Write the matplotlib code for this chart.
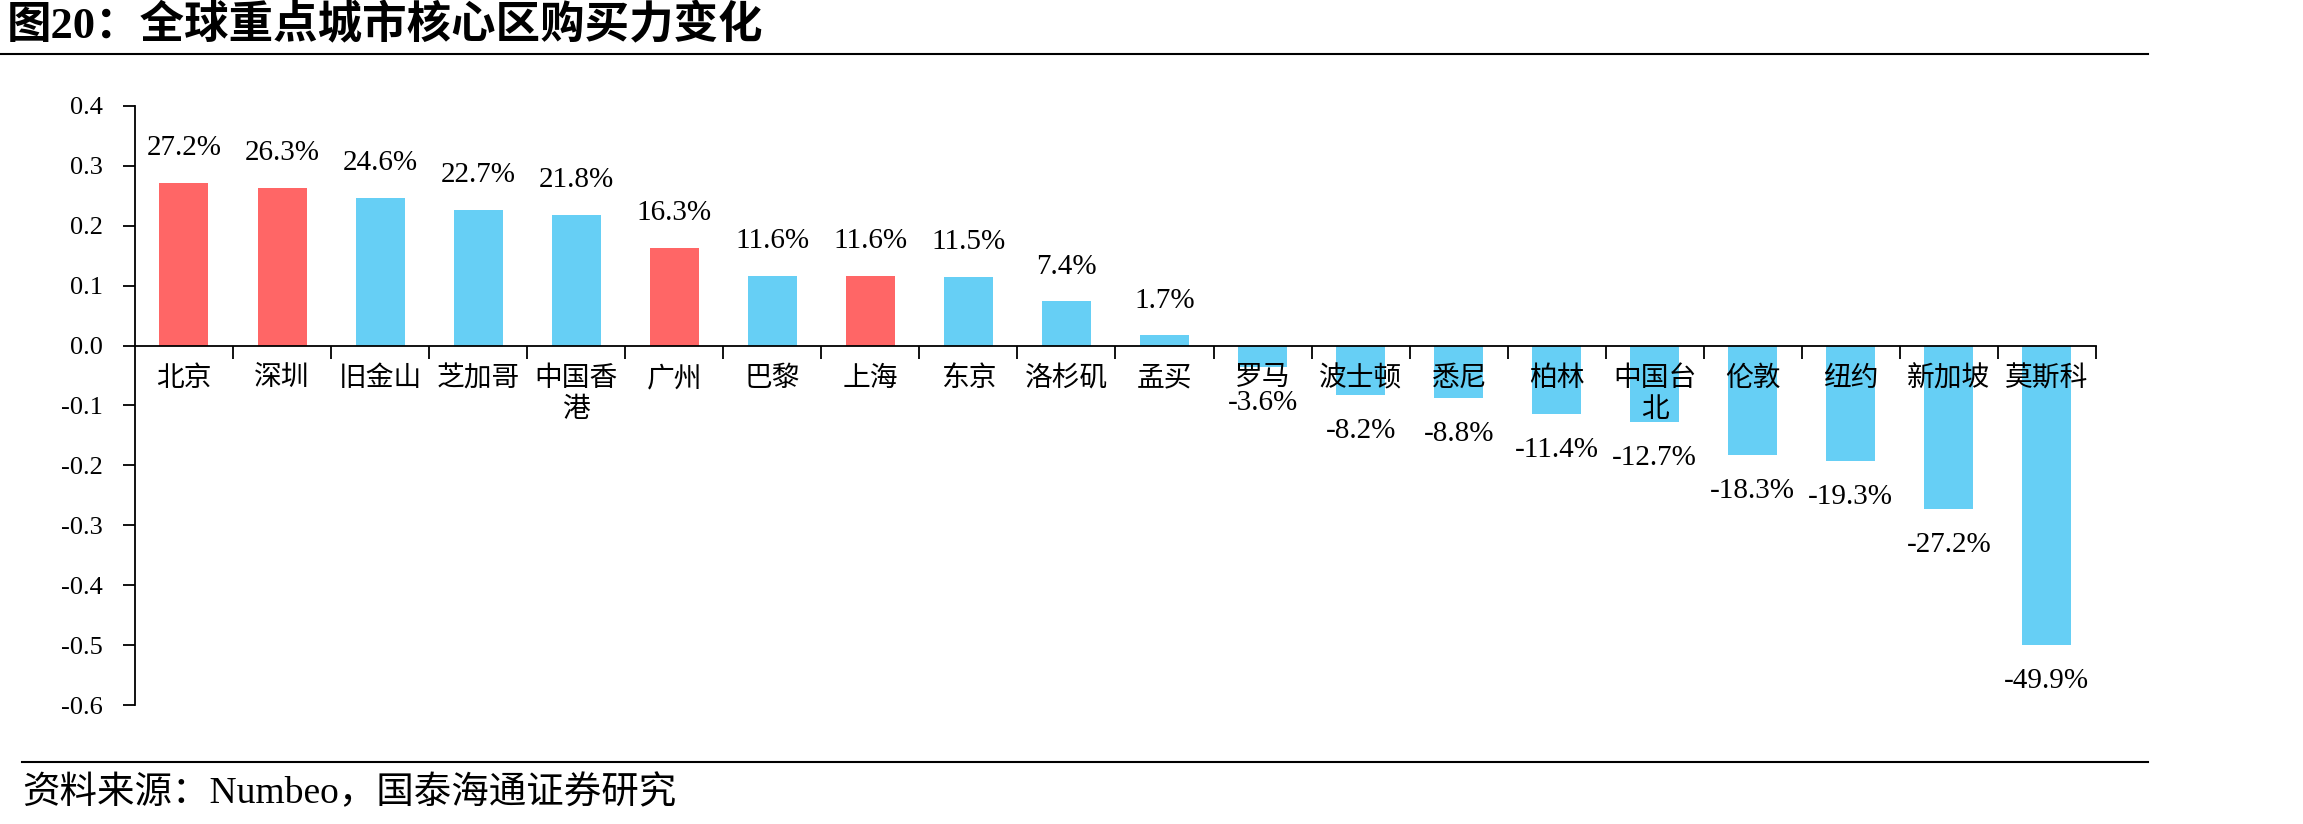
import matplotlib
matplotlib.use("Agg")
import matplotlib.pyplot as plt
from matplotlib.lines import Line2D

plt.rcParams["axes.unicode_minus"] = False

FAMILY = ["Liberation Serif", "Noto Sans CJK SC"]

cities = ["北京", "深圳", "旧金山", "芝加哥", "中国香\n港", "广州", "巴黎", "上海", "东京", "洛杉矶",
          "孟买", "罗马", "波士顿", "悉尼", "柏林", "中国台\n北", "伦敦", "纽约", "新加坡", "莫斯科"]
change_pct = [27.2, 26.3, 24.6, 22.7, 21.8, 16.3, 11.6, 11.6, 11.5, 7.4,
              1.7, -3.6, -8.2, -8.8, -11.4, -12.7, -18.3, -19.3, -27.2, -49.9]
mainland = ["北京", "深圳", "广州", "上海"]

RED = "#FF6666"
BLUE = "#66CFF5"

fig = plt.figure(figsize=(23.03, 8.24), dpi=100)
ax = fig.add_axes([0.0586, 0.1444, 0.8515, 0.7270])

x = list(range(len(cities)))
values = [v / 100 for v in change_pct]
colors = [RED if c in mainland else BLUE for c in cities]
ax.bar(x, values, width=0.5, color=colors, zorder=1)

ax.set_xlim(-0.5, len(cities) - 0.5)
ax.set_ylim(-0.6, 0.4)
yt = [0.4, 0.3, 0.2, 0.1, 0.0, -0.1, -0.2, -0.3, -0.4, -0.5, -0.6]
ax.set_yticks(yt)
ax.set_yticklabels([f"{v:.1f}" for v in yt], family=FAMILY, fontsize=19)

ax.spines["top"].set_visible(False)
ax.spines["right"].set_visible(False)
ax.spines["bottom"].set_position(("data", 0))
ax.spines["left"].set_linewidth(1.3)
ax.spines["bottom"].set_linewidth(1.3)
ax.spines["bottom"].set_zorder(3)
ax.set_xticks([i + 0.5 for i in range(len(cities))])
ax.set_xticklabels([])
ax.tick_params(axis="both", direction="out", length=9, width=1.3)
ax.tick_params(axis="y", pad=14)

for i, (c, v) in enumerate(zip(cities, values)):
    ax.annotate(c, xy=(i, 0), xytext=(0, -15), textcoords="offset points",
                ha="center", va="top", fontsize=20, family=FAMILY,
                linespacing=1.3, zorder=4)
    off = 25 if v >= 0 else -26
    ax.annotate(f"{v * 100:.1f}%", xy=(i, v), xytext=(0, off), textcoords="offset points",
                ha="center", va="center", fontsize=21, family=FAMILY, zorder=4)

fig.text(0.003, 0.9684, "图20：全球重点城市核心区购买力变化", fontsize=32, fontweight="bold",
         family=FAMILY, ha="left", va="center")
fig.add_artist(Line2D([0.0, 0.9327], [0.9345, 0.9345], color="black", lw=1.5))
fig.add_artist(Line2D([0.0096, 0.9327], [0.0752, 0.0752], color="black", lw=1.5))
fig.text(0.0096, 0.0376, "资料来源：Numbeo，国泰海通证券研究", fontsize=27,
         family=FAMILY, ha="left", va="center")

fig.savefig("out.png", dpi=100)
